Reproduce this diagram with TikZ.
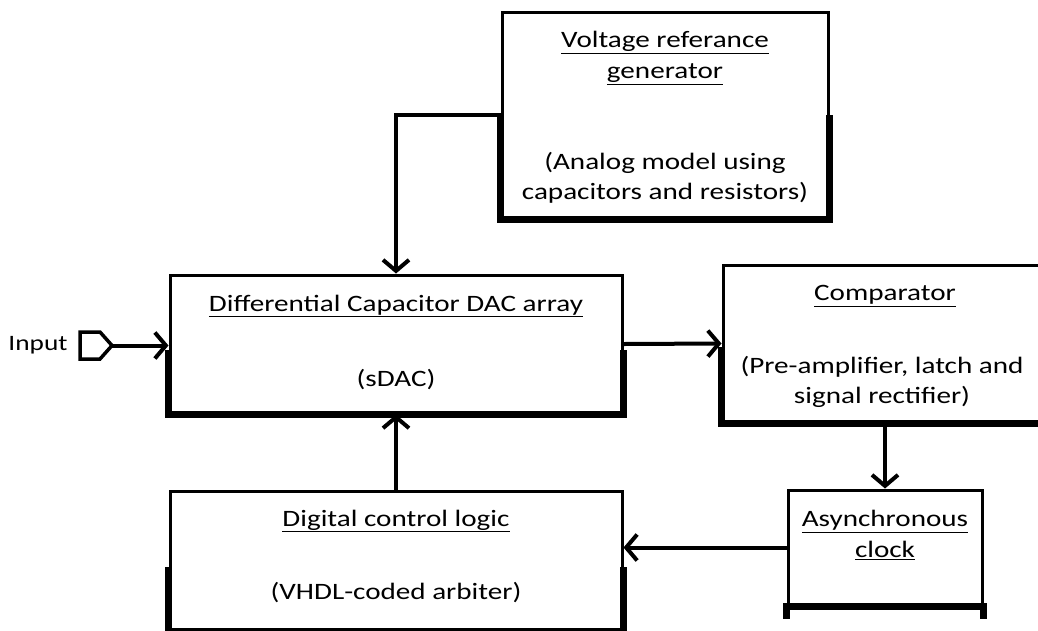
\documentclass[tikz,border=0pt]{standalone}
\usepackage{fontspec}
\setmainfont{Carlito}[FakeStretch=1.24]
\usetikzlibrary{arrows.meta}
\tikzset{
  box/.style={draw=black, line width=3pt, rectangle, inner sep=0pt, fill=white},
  heavy/.style={line width=6.5pt, line cap=butt, line join=miter},
  conn/.style={line width=4pt, -{Straight Barb[length=11pt,width=26pt]}},
  txt/.style={align=center, font=\fontsize{23.5}{30.5}\selectfont, inner sep=0pt}
}
\begin{document}
\begin{tikzpicture}[x=1pt,y=-1pt]
\useasboundingbox (0,0) rectangle (1038,630);
\fill[white] (0,0) rectangle (1038,630);
% boxes
\node[box, minimum width=326pt, minimum height=206pt] (vr) at (665,115) {};
\node[box, minimum width=452pt, minimum height=138pt] (dac) at (396,344) {};
\node[box, minimum width=360pt, minimum height=157pt] (comp) at (903,343.5) {};
\node[box, minimum width=194pt, minimum height=115pt] (async) at (885,547.5) {};
\node[box, minimum width=452pt, minimum height=139pt] (dig) at (396,560.5) {};
% heavy lower edges
\draw[heavy] (vr.west) -- (vr.south west) -- (vr.south east) -- (vr.east);
\draw[heavy] ([yshift=-6pt]dac.west) -- (dac.south west) -- (dac.south east) -- ([yshift=-6pt]dac.east);
\draw[heavy] ([yshift=-3pt]comp.west) -- (comp.south west) -- (comp.south east);
\draw[heavy] ([yshift=-12pt]async.south west) -- (async.south west) -- (async.south east) -- ([yshift=-12pt]async.south east);
\draw[heavy] ([yshift=-6pt]dig.west) -- (dig.south west) -- (dig.south east) -- ([yshift=-6pt]dig.east);
% texts
\node[txt] (vrt) at (665,58) {\underline{Voltage referance}\\\underline{generator}};
\node[txt] (vrs) at (665,178) {(Analog model using\\capacitors and resistors)};
\node[txt] (dact) at (396,306) {\underline{Differential Capacitor DAC array}};
\node[txt] (dacs) at (396,380) {(sDAC)};
\node[txt] (compt) at (885,296) {\underline{Comparator}};
\node[txt] (comps) at (882,382) {(Pre-amplifier, latch and\\signal rectifier)};
\node[txt] (asyt) at (885,535) {\underline{Asynchronous}\\\underline{clock}};
\node[txt] (digt) at (396,521) {\underline{Digital control logic}};
\node[txt] (digs) at (396,593) {(VHDL-coded arbiter)};
\node[txt, font=\fontsize{22}{26}\selectfont] (inl) at (38,345) {Input};
% input pin
\draw[line width=3.5pt, line join=miter] (80,332) -- (100,332) -- (112,345.5) -- (100,359) -- (80,359) -- cycle;
\coordinate (pin) at (112,345.5);
% connectors
\draw[conn] (vr.west) -| (dac.north);
\draw[conn] (pin) -- (pin -| dac.west);
\draw[conn] (dac.east) -- (comp.west);
\draw[conn] (async.north |- comp.south) -- (async.north);
\draw[conn] (async.west) -- (async.west -| dig.east);
\draw[conn] (dig.north) -- (dac.south);
\end{tikzpicture}
\end{document}
